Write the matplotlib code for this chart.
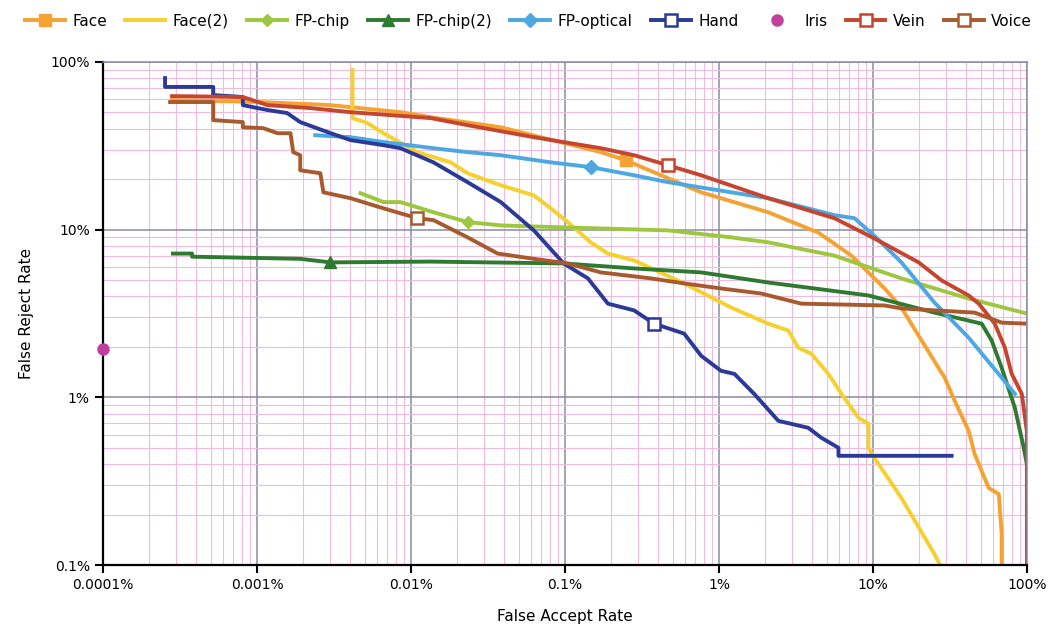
import matplotlib.pyplot as plt
import numpy as np

# values in percent
face_x = [0.000281, 0.00105, 0.003, 0.00855, 0.0134, 0.0383, 0.171, 0.249, 0.766, 2.09, 4.42, 7.24,
          11.9, 15.3, 20.7, 29.2, 33.9, 41.8, 45.7, 56.4, 65.6, 68.5, 68.5]
face_y = [59.3, 57.7, 55.3, 50.2, 46.9, 40.8, 29.0, 25.9, 16.7, 12.7, 9.6, 7.0,
          4.46, 3.43, 2.18, 1.31, 0.955, 0.631, 0.46, 0.288, 0.265, 0.153, 0.09]

face2_x = [0.00417, 0.00417, 0.00522, 0.00663, 0.011, 0.0181, 0.0233, 0.0383, 0.0628, 0.081, 0.104,
           0.147, 0.19, 0.281, 0.594, 1.2, 2.09, 2.82, 3.27, 3.98, 5.13, 6.24, 8.05, 9.35, 9.35,
           10.2, 15.3, 25.1, 27.9]
face2_y = [89.6, 46.3, 43.2, 37.6, 29.0, 25.2, 21.7, 18.4, 16.0, 13.4, 11.1,
           8.4, 7.2, 6.55, 4.78, 3.43, 2.75, 2.5, 1.98, 1.82, 1.38, 1.05, 0.755, 0.695, 0.5,
           0.436, 0.251, 0.116, 0.096]

fpchip_x = [0.0047, 0.00663, 0.00855, 0.014, 0.0233, 0.0383, 0.104, 0.467, 1.2, 2.09, 5.62, 15.3, 41.8, 99.8]
fpchip_y = [16.5, 14.6, 14.6, 12.7, 11.1, 10.6, 10.3, 9.9, 9.0, 8.4, 7.0, 5.12, 3.88, 3.16]

fpchip2_x = [0.000285, 0.000379, 0.000379, 0.00191, 0.003, 0.0134, 0.098, 0.281, 0.766, 2.09, 9.35,
             25.1, 50.8, 59.0, 68.5, 83.4, 95.3, 99.8]
fpchip2_y = [7.2, 7.2, 6.9, 6.7, 6.38, 6.45, 6.29, 5.87, 5.56, 4.84, 4.05,
             3.2, 2.75, 2.18, 1.5, 0.867, 0.5, 0.401]

fpopt_x = [0.00239, 0.00405, 0.00663, 0.014, 0.0233, 0.0383, 0.081, 0.147, 0.281, 0.467, 1.2, 2.09,
           5.62, 7.59, 10.2, 15.3, 25.1, 41.8, 68.5, 83.4]
fpopt_y = [36.6, 35.6, 33.3, 30.6, 29.0, 27.8, 25.2, 23.6, 21.1, 19.2, 16.7, 15.4,
           12.2, 11.7, 9.2, 6.38, 3.67, 2.27, 1.31, 1.05]

hand_x = [0.000253, 0.000253, 0.00052, 0.00052, 0.00081, 0.00081, 0.00117, 0.00157, 0.00191, 0.00287,
          0.00405, 0.00663, 0.00855, 0.014, 0.0233, 0.0383, 0.0628, 0.098, 0.141, 0.19, 0.281, 0.379,
          0.594, 0.766, 1.03, 1.26, 1.69, 2.43, 3.8, 4.62, 5.97, 5.97, 32.4]
hand_y = [80.2, 71.0, 71.0, 63.5, 61.8, 55.3, 51.7, 49.6, 43.8, 38.2,
          34.2, 31.9, 30.6, 25.2, 19.2, 14.6, 9.9, 6.29, 5.12, 3.62, 3.3, 2.75,
          2.4, 1.77, 1.44, 1.38, 1.05, 0.724, 0.658, 0.574, 0.5, 0.448, 0.448]

iris_x = [0.0001]
iris_y = [1.95]

vein_x = [0.000281, 0.00081, 0.00117, 0.00222, 0.00405, 0.0134, 0.0233, 0.0628, 0.171, 0.281, 0.467,
          0.766, 2.09, 5.62, 10.2, 19.8, 27.9, 41.8, 48.6, 61.8, 71.8, 79.6, 92.5, 99.8, 100]
vein_y = [62.6, 61.8, 55.3, 53.1, 50.2, 46.3, 42.0, 35.6, 30.6, 27.8, 24.2,
          21.1, 15.4, 11.7, 8.87, 6.38, 4.98, 4.05, 3.62, 2.75, 1.98, 1.38, 1.05, 0.631, 0.09]

voice_x = [0.000273, 0.00052, 0.00052, 0.00081, 0.00081, 0.0011, 0.00136, 0.00165, 0.00172, 0.00191,
           0.00191, 0.00258, 0.0027, 0.00405, 0.00663, 0.011, 0.014, 0.0233, 0.0366, 0.0628, 0.104,
           0.171, 0.362, 0.594, 1.03, 1.88, 3.43, 11.9, 15.3, 45.7, 68.5, 99.8]
voice_y = [57.7, 57.7, 45.0, 43.8, 40.8, 40.3, 37.6, 37.6, 29.0, 27.8,
           22.6, 21.7, 16.7, 15.4, 13.4, 11.7, 11.4, 9.0, 7.2, 6.7, 6.29,
           5.56, 5.12, 4.78, 4.46, 4.16, 3.62, 3.53, 3.39, 3.2, 2.79, 2.75]

x_ticks = [0.0001, 0.001, 0.01, 0.1, 1, 10, 100]
x_labels = ['0.0001%', '0.001%', '0.01%', '0.1%', '1%', '10%', '100%']
y_ticks = [0.1, 1, 10, 100]
y_labels = ['0.1%', '1%', '10%', '100%']

fig = plt.figure(figsize=(10.57, 6.28), dpi=100)
ax = fig.add_axes([0.0974, 0.1003, 0.8742, 0.801])

lw = 2.8
ax.plot(face_x, face_y, color='#F5A233', lw=lw, marker='s', ms=9, markevery=[7], label='Face')
ax.plot(face2_x, face2_y, color='#F6D02E', lw=lw, label='Face(2)')
ax.plot(fpchip_x, fpchip_y, color='#9DC73F', lw=lw, marker='D', ms=6, markevery=[4], label='FP-chip')
ax.plot(fpchip2_x, fpchip2_y, color='#2E7A30', lw=lw, marker='^', ms=9, markevery=[4], label='FP-chip(2)')
ax.plot(fpopt_x, fpopt_y, color='#4CA8E2', lw=lw, marker='D', ms=7, markevery=[7], label='FP-optical')
ax.plot(hand_x, hand_y, color='#2B3A98', lw=lw, marker='s', ms=8, mfc='white', mew=1.8,
        markevery=[21], label='Hand')
ax.plot(iris_x, iris_y, color='#C2409C', lw=0, marker='o', ms=8, label='Iris', clip_on=False, zorder=5)
ax.plot(vein_x, vein_y, color='#C6452F', lw=lw, marker='s', ms=8, mfc='white', mew=1.8,
        markevery=[10], label='Vein')
ax.plot(voice_x, voice_y, color='#A85A2E', lw=lw, marker='s', ms=8, mfc='white', mew=1.8,
        markevery=[15], label='Voice')

ax.set_xscale('log')
ax.set_yscale('log')
ax.set_xlim(0.0001, 100)
ax.set_ylim(0.1, 100)

ax.set_xticks(x_ticks)
ax.set_xticklabels(x_labels)
ax.set_yticks(y_ticks)
ax.set_yticklabels(y_labels)
ax.tick_params(axis='both', which='major', labelsize=10, length=6, width=1.5, color='black')
ax.tick_params(axis='both', which='minor', length=0)

ax.grid(True, which='major', color='#8A8AA6', lw=1.1)
ax.grid(True, which='minor', color='#F0BCDD', lw=0.8)
ax.set_axisbelow(True)

for s in ['left', 'bottom']:
    ax.spines[s].set_color('black')
    ax.spines[s].set_linewidth(1.6)
for s in ['top', 'right']:
    ax.spines[s].set_color('#8A8AA6')
    ax.spines[s].set_linewidth(1.1)

ax.set_xlabel('False Accept Rate', fontsize=11, labelpad=12)
ax.set_ylabel('False Reject Rate', fontsize=11, labelpad=12)

fig.legend(loc='upper center', bbox_to_anchor=(0.5, 1.0), ncol=9, frameon=False, fontsize=11,
           handlelength=2.6, columnspacing=1.2, handletextpad=0.5)

fig.savefig('out.png', dpi=100)
